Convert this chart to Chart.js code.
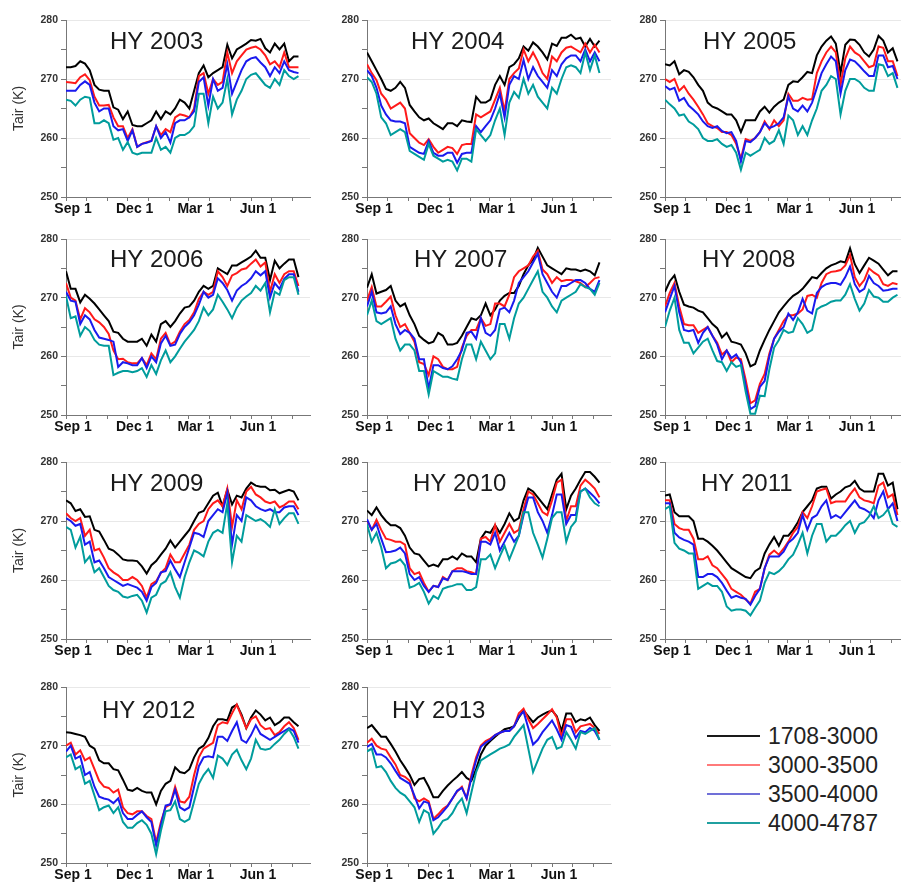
<!DOCTYPE html>
<html><head><meta charset="utf-8">
<script src="https://cdn.jsdelivr.net/npm/chart.js@4.4.1/dist/chart.umd.min.js"></script>
<style>
html,body{margin:0;padding:0;background:#fff;width:901px;height:883px;overflow:hidden;}
#wrap{position:relative;width:901px;height:883px;overflow:hidden;}
canvas{position:absolute;}
.leg{position:absolute;left:707px;width:190px;height:29px;font:23px "Liberation Sans",Arial,sans-serif;color:#222;white-space:nowrap;}
.leg .ln{position:absolute;left:0;top:13px;width:53px;height:2px;}
.leg .tx{position:absolute;left:61px;top:0;line-height:29px;}
</style></head><body><div id="wrap"></div>
<script>
// ---------- DATA ----------
const bandLabels = ['1708-3000', '3000-3500', '3500-4000', '4000-4787'];
const weekDays = [0,7,14,21,28,35,42,49,56,63,70,77,84,91,98,105,112,119,126,133,140,147,154,161,168,175,182,189,196,203,210,217,224,231,238,245,252,259,266,273,280,287,294,301,308,315,322,329,336,343];
const monthTickDays = [0,30,61,91,122,153,181,212,242,273,303,334];
const monthTickLabels = ['Sep 1','','','Dec 1','','','Mar 1','','','Jun 1','',''];
const yTicks = [250, 260, 270, 280];

const hy2003_1708_3000 = [272,272,272.2,273,272.6,271.5,269,268.2,268,268,265.2,264.8,263.2,264.5,262.2,262,262,262.5,263,264.5,263.2,264.5,264,265,266.5,266,265,268,271,272.3,270.3,271,271.5,272,275.8,273.5,275,275.5,276,276.6,276.5,276.8,275.2,274.5,276,275,276,273,273.8,273.8];
const hy2003_3000_3500 = [269.5,269.4,269.3,270.3,270.8,269.8,267,265.5,265.5,265.6,263.5,262,262,260,261.5,258.5,259,259.3,259.5,262,260.5,261.5,261,263.5,264,263.8,263.5,265,270.5,271,267.5,270,269,269.5,274.5,271,273,274,275,275.3,275.5,275,274,272.5,273,272,274.5,272,272,272];
const hy2003_3500_4000 = [268,268,268,269,269.6,269,266,264.5,265,265,262,261.3,261.5,259.5,261.3,258.5,259,259.2,259.5,262,260,261,259.2,262.5,263,263,263.5,264.5,269.5,270.3,265.5,270,268,268.5,272.5,267.5,269.5,271.5,273,273.5,273.7,272.8,272,270.5,272,271,273,271.5,271.2,271];
const hy2003_4000_4787 = [266.5,266.3,265.5,266.5,267,266.8,262.5,262.5,263,262.5,259.7,260,258,259.3,257.5,257.2,257.5,257.5,257.5,260,258,258.5,257.5,260,260.5,260.5,261,262,267.5,267.5,262.5,267,265,266,270,264,266.5,268,270,270.7,271,270,269,268.5,270,269,271.5,270.5,270,270.5];

const hy2004_1708_3000 = [274.5,273,271.5,270,268.3,268,268.5,269.5,268.5,265.6,264.5,263.5,263,263.3,262.5,262,261.5,262.5,262.5,262,263,262.8,262.7,267,266,266,266.5,269,270.5,269,272,272.5,273.5,275.5,274.8,276.2,275.5,274.5,273.3,276,275.6,277,277,277.5,276.8,277,275.5,276.8,275.5,276.5];
const hy2004_3000_3500 = [272.5,271,269.8,267.5,266.5,265,265.5,266,265,260.8,260,259.2,258.8,259.8,258.5,257.5,258,258.5,258.3,257.3,258.8,259,259,264,263.5,264,264.5,266.5,268.5,264.5,270,271,271.8,275,273,274.5,273,271,270,273.8,273,274.5,275.3,275.5,275,274.5,276,274.5,275.8,274.5];
const hy2004_3500_4000 = [271.5,270.5,268.5,265.5,264,263,262.8,262.8,262.5,258.5,258,257.5,257.3,259.5,257.5,257,257,257.5,257.5,255.8,257.3,257.5,257.5,262,261,262,263,265,267.5,263.5,269,270.5,270,273.2,270,272,270.5,269.5,268.5,271.5,270.5,272.5,273.5,274,274,273,275,273,274.5,273];
const hy2004_4000_4787 = [270.3,269.5,267.5,263.5,262.5,260.5,261,261.5,261,257.8,257.3,256.8,256.3,259,257,256.5,256,256.3,256,254.5,256.5,256.5,256,261.5,260.5,259.5,260.5,263,265,260.5,266,267.8,266.8,270,267.5,269,267,266,265,268.5,267.5,270,272,272.3,272,271,274.5,271.5,274,271];

const hy2005_1708_3000 = [272.5,272.3,273,270.8,271.5,271.2,270.3,269,268,266,265.3,265,264.5,264,264,263,261,263,263,263,264.5,265.3,264.3,265.3,266,266.5,269,269.6,269.5,270.3,271.2,271,274,275.5,276.5,277.2,276,271,275.8,276.7,276.6,275.8,274.5,273.8,275,277.3,276.5,274.5,275.2,273];
const hy2005_3000_3500 = [270,269.5,270,268,268.8,267.5,266.5,265.3,264,262.5,262,261.7,261,261,260.5,259,256.5,259.8,259.5,260,261,262.8,261.5,263,262,263,267.5,266.3,266.3,266.8,266.5,266.6,271,273,274.5,275.5,274.5,269,273.5,275.5,274.5,274,273,272,272.3,275.5,275.3,273,273,270.5];
const hy2005_3500_4000 = [268.8,268.2,268.5,266.3,266.8,265.5,264.8,264,262.8,262,261.7,262,261.2,260.8,261,259.5,256,259.5,259.3,260,261,262.5,261.7,262,262.5,263.5,267,265,264.5,265.5,264.5,266,268.5,271,272.5,273.8,273,267.5,271.5,273.3,273,272.2,271.3,270.5,270.5,274,274,272,272.2,270];
const hy2005_4000_4787 = [266.5,265.7,265,263.8,264,262.8,262.3,261.5,260,259.5,259.5,259.8,259,258.5,258.8,257.5,254.6,257.5,257,257.5,258,260,259,259.5,261.3,259,263.8,263,260.5,262,260.5,263,265,268,269,270.5,270,264,268,270,270,269.5,268.5,268,268,272.5,272.3,270.5,271,268.5];

const hy2006_1708_3000 = [274.5,271.5,271.5,269.2,270.5,269.8,269,268,267,266,264.2,264,263,262.5,262.5,262.5,263,261.8,263.7,262.5,265.5,266,265,266,267.3,268.3,268.5,269.5,271,272,271.5,272,275,274.5,274,275.5,275.5,276,276.5,277,278,276.8,276.8,273,276.3,275,275.8,276.5,276.5,273.5];
const hy2006_3000_3500 = [272.5,270,269.5,266.3,268.2,267.5,266.3,265.8,265,263.8,261,259.5,259.6,259,258.8,258.8,259.7,258.5,260.5,259.5,263,264,262,262.5,264.2,265.5,266.2,267.5,269.8,271,270.5,271,274.5,273.5,272,273.8,274.2,274.8,275,275.8,276.5,275.3,276,271,274,272.5,274,274.5,274.5,272];
const hy2006_3500_4000 = [271,269.5,269.3,265.5,267,266.3,264.5,263.2,263,262.8,262.5,258.2,259,258.8,258.5,258.5,259.7,258,260,259,262.2,263.5,261.8,262,263.8,265,265.8,267,268.8,271,270,270.5,273.3,272.5,271.3,269.5,271.2,272,272.5,273.3,274.5,273.8,274.5,270,272.5,271.5,273.2,274,274,271];
const hy2006_4000_4787 = [270.3,266.5,266.8,263.5,265,264.3,262.8,262,261.8,261.8,256.8,257.2,257.5,257.5,257.3,257.5,258,256.5,258.5,257,259.3,261,259,260,261.3,262.5,263.5,264.5,266,268.3,267,268,270.5,269.3,268,266.5,268.3,269.5,270.2,270.8,272,271.2,272.5,267.5,271,270.5,273,273.5,273.5,270.5];

const hy2007_1708_3000 = [271.7,274,270.7,271,271.3,272,269.5,268.5,269,267,265.5,263.5,262.8,262.2,262.5,264,263.5,262,262,262.3,263.5,265,266.5,266.2,267,269,267,268,269.5,270.3,270.8,270.8,272,274,275.5,276.5,278.5,277,275.5,275,274.5,274,275,274.8,274.8,274.5,274.8,274.5,273.8,276];
const hy2007_3000_3500 = [269.5,271.8,268.5,268.5,269.3,270.2,267,265,265.5,264,262.5,259,258.7,256.8,260,259.5,258.2,257.8,257.8,258.2,261.5,263.5,264.5,264.5,266.5,265.2,265.5,269,269,268.5,270.5,273.5,274.5,275,275.5,277,278,274.8,274,272.5,273.5,272.8,273,273,272.8,272.5,271.8,272.5,273.3,273.5];
const hy2007_3500_4000 = [268.5,271,267.5,267.3,267.5,268.5,265.5,263.8,264.5,264,263,259.5,259.5,254.5,258.5,258.5,258,257.8,258.3,259.5,261,264,264.2,263,266.5,264,263.5,264.5,268,268.3,267.5,269.5,272.5,273.5,274.5,276,277.5,274,272.5,271,270,272,272,272.5,273,273,272.5,271.5,271,273];
const hy2007_4000_4787 = [267,269.5,266,265.5,266,266.5,263,261,262,262,261,257.5,257.5,253.5,257.5,257,256.5,256.5,256.2,256,259.5,262,262,259.5,262.5,261,259.5,260.5,265.5,265.5,263,266.5,269,270,271.5,273,274.5,271,270,268.5,267.5,269.5,270,270.5,271,272.3,271.8,271.5,270.5,272.5];

const hy2008_1708_3000 = [271,272.8,273.8,271,268.8,268.5,268.3,267.8,267.5,266.5,265.5,264.8,263.2,264,262.5,262.3,262,260.5,258.3,258.7,261,262.8,264.5,266,267.5,268.5,269.5,270.3,270.8,271.5,272.5,273.5,273.3,274.2,275,275.5,275.8,276.2,276,278.4,275.7,274.2,275.5,276.8,276.3,275.8,274.8,273.8,274.5,274.5];
const hy2008_3000_3500 = [268.5,270.8,272.5,268.5,265.5,265.3,265.3,264,264.5,265,263.5,262.3,260.3,261,259,259.8,259.5,256,252,252.5,255.3,257,260.5,263,264.5,266,267,267,267.3,268,270.3,270.5,270,272.5,274,274.4,274.5,274.7,275.5,277.3,273.5,272,273,275,274.3,273.8,272.3,272,272.5,272.3];
const hy2008_3500_4000 = [267.5,269.8,272,267.5,264.5,264.3,264.5,262.3,264,265,263.5,262,259.5,261,259.7,260.3,259,255,251,251.5,254.8,255.8,260,263,264.2,265,267.3,266.2,267.5,269.8,267.8,267.3,270.8,271.8,272.3,272.5,272.5,272.2,273.5,275.3,272.3,271,271.5,273.7,272.5,272,271.2,271.3,271.5,271.5];
const hy2008_4000_4787 = [265,267.8,270,264.5,262.3,262.3,260.5,261.5,262.5,263,261,259.2,259,257.5,259,258.2,258.5,254,250.2,250.2,253.3,253.2,257.8,261.5,262.8,264.5,264,264.2,266.5,265.5,264,264.5,268,268.5,268.8,269.3,269.5,269.5,270.5,272.3,269.8,267.8,269,271.3,270.2,270,269.3,269.3,270,270.5];

const hy2009_1708_3000 = [273.5,273,271.7,272,270.7,270.8,268.5,268.2,266.8,265.3,265,264.3,263.5,263.3,263.3,263.2,262.3,261.1,262.5,263.2,264.3,265.3,266.7,265.5,266.5,267.5,268.5,270,271.4,271.7,273,274.3,274.8,272.5,275.3,272.8,274.3,274,275.5,276.5,276,275.8,275.8,275.2,275.3,274.7,275,275.3,275,273.5];
const hy2009_3000_3500 = [271.3,270.5,270,270.5,267.5,268.5,265,265.3,263.8,262,261.3,260.8,260,260,260.5,260,259,257,259.3,259.8,261.2,262,264.3,263,263,264.5,266,268.5,269.5,270,272,273,273.5,272.5,275.5,269,273.5,272,275,275.8,274.5,274,273.3,273,273.3,272.3,272.7,273.3,273.3,272];
const hy2009_3500_4000 = [270.5,270,269.2,269.5,266,266.5,263,263.3,262,260.5,260,259.5,259,259.3,259,258.7,258,256.5,258.8,259.5,261.3,261.5,263.3,261.8,260.5,263,265.5,268,267.8,267.3,270,271,272,271.5,274.8,266,271,270,274,273.5,272.5,272,271.7,272,271.5,271.5,272.3,272.5,272.5,271];
const hy2009_4000_4787 = [269,268.5,265.5,267.3,263,264,261.3,262,260.5,259,258.3,258,257.2,257,257.3,257.5,256.5,254.5,257,257.5,259.3,259.8,261.3,258.8,257,260.5,263,265,264.6,264,266.5,268,268.5,268,273,263,267.5,266.5,271,270.5,270,270.3,269.8,269,272,269.5,270.5,271.3,271.3,269.5];

const hy2010_1708_3000 = [271.8,271,272.3,271,270,269.3,269.3,268.8,267.5,265.5,264.5,264.3,263.3,262.3,262.6,262.3,263.5,263.5,264,263.5,264.5,264,264,263,267,268.2,268,269.3,268,269.5,271.3,270,270.5,273.5,275.5,275,274,273,272,274.5,277,278,272,274.3,275.5,277,278.3,278.3,277.5,276.5];
const hy2010_3000_3500 = [270,268.5,270.2,268.5,267,266.8,266.5,266.5,266,262,261,261.3,259.5,258,259,258.8,260.5,260,261.5,262,262,261.5,261.3,261,267,267.3,266.5,269.3,266.5,268,269.5,268,268.5,272,275,274.5,273,271.5,271,273.5,276.5,277,270,272.5,272.5,276,277,276.3,275.5,274];
const hy2010_3500_4000 = [270.3,268.5,269.5,267,264.7,264.8,265,265.5,264.5,261,260,260.5,259,258,259,258.8,260.3,260,261.5,261.5,261.5,261.3,261,261,266.5,266.5,266,268,265,266.5,268,266.5,267.5,271,274,274,271.5,270,268,271,274.5,274.5,269.5,271,271,275,275.5,274.8,274,273];
const hy2010_4000_4787 = [269.5,266.5,268,265.5,262,262.8,263,263.5,262.5,258.7,259,259.5,258,256,257.3,256.8,258.5,258.8,259,259.3,259.3,258.3,258.3,258.8,263.5,263.5,264.3,262,264,265.8,263.5,265.5,267.5,271.5,271.5,268,266,263.8,267,270.5,271.5,271.5,266.5,269,270,275,275.5,274,273,272.5];

const hy2011_1708_3000 = [274.3,274.5,271.5,270.8,270.8,270.8,270,267,267,266.5,265.8,265,264,263,262,261.5,261,260.5,260.3,261.5,262,264.5,266,267.3,265.8,267.5,267.5,268.5,269.8,271.5,272.5,273.5,275.5,275.8,275.8,273.8,274.5,275,275.7,276,276.8,275.5,275,275,275,278,278,276,276.5,272];
const hy2011_3000_3500 = [273.5,273.5,269.5,268.8,268.5,268.5,267,263.5,263.5,264,262.5,262,261,260,258.5,258,257.5,256.7,256,258,258.5,262,264.3,265,264.3,265.3,266.5,268,269,271.5,270.5,272.5,275,275.3,275.5,273,273.3,273.3,273.3,274.5,275.5,274,273.5,273.3,273,276,276.5,274,274.5,271];
const hy2011_3500_4000 = [273,273,268,267.2,266.8,266.5,266,260.5,260.5,261,261,260.5,259.5,258.2,257,257.3,257,256.8,255.8,257.3,258.5,262,264,264,264,264.8,266.3,267,268,271,268.5,270.5,271,272.5,273.5,270.5,271,270.5,271.5,272.5,273.5,272.3,272,271.5,270.5,273.5,275,272,273,270];
const hy2011_4000_4787 = [272,272.5,266.3,265.3,265,264.5,264.5,258.5,259,259.5,259,259,258,255.5,254.8,255,255,254.8,254,255.3,256.5,259.5,261.3,261,261.5,262.3,263.5,264.3,266,268,264.5,267.5,269.5,269.5,266.5,267.5,267.5,268.3,269.3,270,268,269.5,269.8,270.8,272.5,270.5,271,272,269.5,269];

const hy2012_1708_3000 = [272.3,272.2,272,271.8,271.5,270,269.5,267.5,267,267,266,265.8,264.2,262.5,262.3,262.8,262.3,262,262,260,262.3,263.5,264,266.3,265.5,265.3,266,268,269.5,270,271.3,273.3,274.5,274.5,274.3,276.5,277,275.3,273,274.8,276,275.3,274.3,274.8,273.5,274,274.8,274.8,274,273.3];
const hy2012_3000_3500 = [270,270.5,268.5,269.2,267.5,268,266,264,263,262.8,262,262.5,259.5,258.5,258.3,258.8,258.8,258,257.5,253.5,257,259.5,260,263,260.5,260.3,261.3,265,268,269.5,270,270.5,273.5,274,273.8,275.5,277,275,273,274.5,275,273.5,272.8,273,271.8,272.3,273.3,274,273,271];
const hy2012_3500_4000 = [269,270,267.8,268.2,265,265.5,263,261.3,261,260.8,260.2,261,258.5,257.5,257.5,258.2,258.8,257.8,257,253,256.5,259.8,260,262.5,259.5,259,259.5,263,266.5,268,268.2,268,271.5,271.5,270.8,272.5,274,271,270.5,271.8,273.5,272,271.5,271,271.5,272,272.5,273,272.5,270.5];
const hy2012_4000_4787 = [268,268.5,266,266.5,263.5,264,261.5,259,259.5,259.8,258.5,259.5,257,256,256,256.8,257.3,256.5,255,251.5,255.5,258.8,259,260.5,257.5,257,257.5,260.5,263.5,265,266,264.5,268.3,267.8,266.7,268.5,269.3,267.5,266,267.8,271,269.5,269.3,269.5,270.3,271,272,272.8,271.5,269.5];

const hy2013_1708_3000 = [273,273.5,272.5,271.5,271.5,270.3,269,267.5,266.3,265,263.3,264.3,264.5,263,261.2,261.2,262.3,263.2,264,264.7,265.5,264.5,264,266,268.5,270,270.8,271.5,272.2,272.8,273,273.3,274.8,276,275,274,274.8,275.3,275.7,276,275,272.5,275.5,275.5,274,274.5,274.3,274.8,273.5,272.5];
const hy2013_3000_3500 = [270.5,271.2,270,269.5,269.3,268,266.8,265,264.7,264,261,260.5,261,260.5,257.5,258.3,259.2,259.8,261,262.2,263,261,265,268,270,270.8,271.2,271.8,272.2,272.5,272.5,273.3,275.5,276.3,274.5,273,273.7,274.5,275.3,276.2,274.8,271.5,274.5,274.5,272.3,273.3,273.5,273.7,273,272];
const hy2013_3500_4000 = [269.8,270.3,268.5,268.5,268,267,265.7,264.5,264,263.5,261.5,259.3,260.5,260.2,257.3,257.8,258.7,259.7,261,262.3,262.8,261,264.5,267.5,269.8,270.5,271,271.8,272.2,272.5,272.5,273.3,275,275.8,273,270.2,271,272.3,273.3,274.3,272.8,271,273.5,273.2,271.3,272.5,272.3,273,272.5,271];
const hy2013_4000_4787 = [269,269.5,266.3,266.5,265.5,264,262.8,262,261.5,260.5,259.5,257,259,258.5,255,256,257.2,257.5,258.5,260,261,258.5,262,265.5,267.5,268,268.5,269,269.5,269.8,270.2,271.5,272.5,273.5,269.5,265.5,267.5,269.5,271,271.5,269.5,269.8,272.3,271,269.5,272.3,272,272.5,273,271];

const panelNames = ['HY 2003','HY 2004','HY 2005','HY 2006','HY 2007','HY 2008','HY 2009','HY 2010','HY 2011','HY 2012','HY 2013'];
const panelSeries = [
  [hy2003_1708_3000, hy2003_3000_3500, hy2003_3500_4000, hy2003_4000_4787],
  [hy2004_1708_3000, hy2004_3000_3500, hy2004_3500_4000, hy2004_4000_4787],
  [hy2005_1708_3000, hy2005_3000_3500, hy2005_3500_4000, hy2005_4000_4787],
  [hy2006_1708_3000, hy2006_3000_3500, hy2006_3500_4000, hy2006_4000_4787],
  [hy2007_1708_3000, hy2007_3000_3500, hy2007_3500_4000, hy2007_4000_4787],
  [hy2008_1708_3000, hy2008_3000_3500, hy2008_3500_4000, hy2008_4000_4787],
  [hy2009_1708_3000, hy2009_3000_3500, hy2009_3500_4000, hy2009_4000_4787],
  [hy2010_1708_3000, hy2010_3000_3500, hy2010_3500_4000, hy2010_4000_4787],
  [hy2011_1708_3000, hy2011_3000_3500, hy2011_3500_4000, hy2011_4000_4787],
  [hy2012_1708_3000, hy2012_3000_3500, hy2012_3500_4000, hy2012_4000_4787],
  [hy2013_1708_3000, hy2013_3000_3500, hy2013_3500_4000, hy2013_4000_4787]
];

// ---------- STYLE / LAYOUT ----------
const FONT = '"Liberation Sans", Arial, Helvetica, sans-serif';
const lineColors = ['#000000', '#ff1a1a', '#1a1aee', '#009c9c'];
const legendColors = ['#1a1a1a', '#ff7a7a', '#7070d8', '#20a0a0'];
const colAxisX = [66, 367, 665];
const rowTop = [20, 239, 462, 687];
const rowBottom = [197, 415, 639, 863];
const titleDx = [44, 44, 38, 44, 47, 37, 44, 46, 36, 36, 25];
const titleDy = [20, 20, 20, 19, 19, 19, 20, 20, 20, 22.5, 22.5];
const PX_PER_DAY = 0.678;
const X_MAX = 360;
const LEFT_W = 62, TOP_PAD = 12, RIGHT_PAD = 4, BOTTOM_H = 26;

const panelTitle = {
  id: 'panelTitle',
  beforeDatasetsDraw(chart, args, opts) {
    const {ctx, chartArea} = chart;
    ctx.save();
    ctx.font = '24px ' + FONT;
    ctx.fillStyle = '#1a1a1a';
    ctx.textBaseline = 'alphabetic';
    ctx.textAlign = 'left';
    ctx.fillText(opts.text, chartArea.left + opts.dx, chartArea.top + opts.dy + 8.6);
    ctx.restore();
  }
};

const wrap = document.getElementById('wrap');
panelNames.forEach((name, k) => {
  const col = k % 3, row = Math.floor(k / 3);
  const plotW = Math.round(X_MAX * PX_PER_DAY);
  const plotH = rowBottom[row] - rowTop[row];
  const W = LEFT_W + plotW + RIGHT_PAD;
  const H = TOP_PAD + plotH + BOTTOM_H;
  const cv = document.createElement('canvas');
  cv.width = W; cv.height = H;
  cv.style.width = W + 'px'; cv.style.height = H + 'px';
  cv.style.left = (colAxisX[col] - LEFT_W) + 'px';
  cv.style.top = (rowTop[row] - TOP_PAD) + 'px';
  wrap.appendChild(cv);
  new Chart(cv, {
    type: 'line',
    data: {
      datasets: panelSeries[k].map((arr, j) => ({
        label: bandLabels[j],
        data: weekDays.map((d, i) => ({x: d, y: arr[i]})),
        borderColor: lineColors[j],
        borderWidth: 2,
        pointRadius: 0,
        tension: 0,
        fill: false,
        order: 3 - j
      }))
    },
    options: {
      responsive: false, animation: false, devicePixelRatio: 1,
      layout: {padding: {top: TOP_PAD, right: RIGHT_PAD, left: 0, bottom: 0}},
      plugins: {
        legend: {display: false}, tooltip: {enabled: false},
        panelTitle: {text: name, dx: titleDx[k], dy: titleDy[k]}
      },
      scales: {
        x: {
          type: 'linear', min: 0, max: X_MAX,
          afterFit: s => { s.height = BOTTOM_H; },
          afterBuildTicks: s => { s.ticks = monthTickDays.map(v => ({value: v})); },
          grid: {drawOnChartArea: false, drawTicks: true, tickLength: 4, tickColor: '#777', tickWidth: 1},
          border: {display: true, color: '#777', width: 1},
          ticks: {
            autoSkip: false, maxRotation: 0, minRotation: 0, padding: 0, labelOffset: 7,
            color: '#111', font: {family: FONT, size: 14, weight: 'bold'},
            callback: v => { const i = monthTickDays.indexOf(v); return i >= 0 ? monthTickLabels[i] : ''; }
          }
        },
        y: {
          min: 250, max: 280,
          afterFit: s => { s.width = LEFT_W; },
          ticks: {
            stepSize: 5, padding: 3, color: '#333',
            font: {family: FONT, size: 10.5, weight: 'bold'},
            callback: v => yTicks.includes(v) ? String(v) : ''
          },
          grid: {
            color: c => (c.tick && yTicks.includes(c.tick.value) && c.tick.value !== 250) ? '#e8e8e8' : 'rgba(0,0,0,0)',
            tickColor: '#777', tickLength: 5, drawTicks: true
          },
          border: {color: '#777', width: 1},
          title: {
            display: col === 0, text: 'Tair (K)', color: '#333',
            font: {family: FONT, size: 14}, padding: {top: 7, bottom: 0}
          }
        }
      }
    },
    plugins: [panelTitle]
  });
});

// legend
const legTops = [736, 765, 794, 823];
bandLabels.forEach((lab, j) => {
  const d = document.createElement('div');
  d.className = 'leg';
  d.style.top = (legTops[j] - 14.5) + 'px';
  const ln = document.createElement('div');
  ln.className = 'ln';
  ln.style.background = legendColors[j];
  const sp = document.createElement('div');
  sp.className = 'tx';
  sp.textContent = lab;
  d.appendChild(ln); d.appendChild(sp);
  wrap.appendChild(d);
});
</script>
</body></html>
